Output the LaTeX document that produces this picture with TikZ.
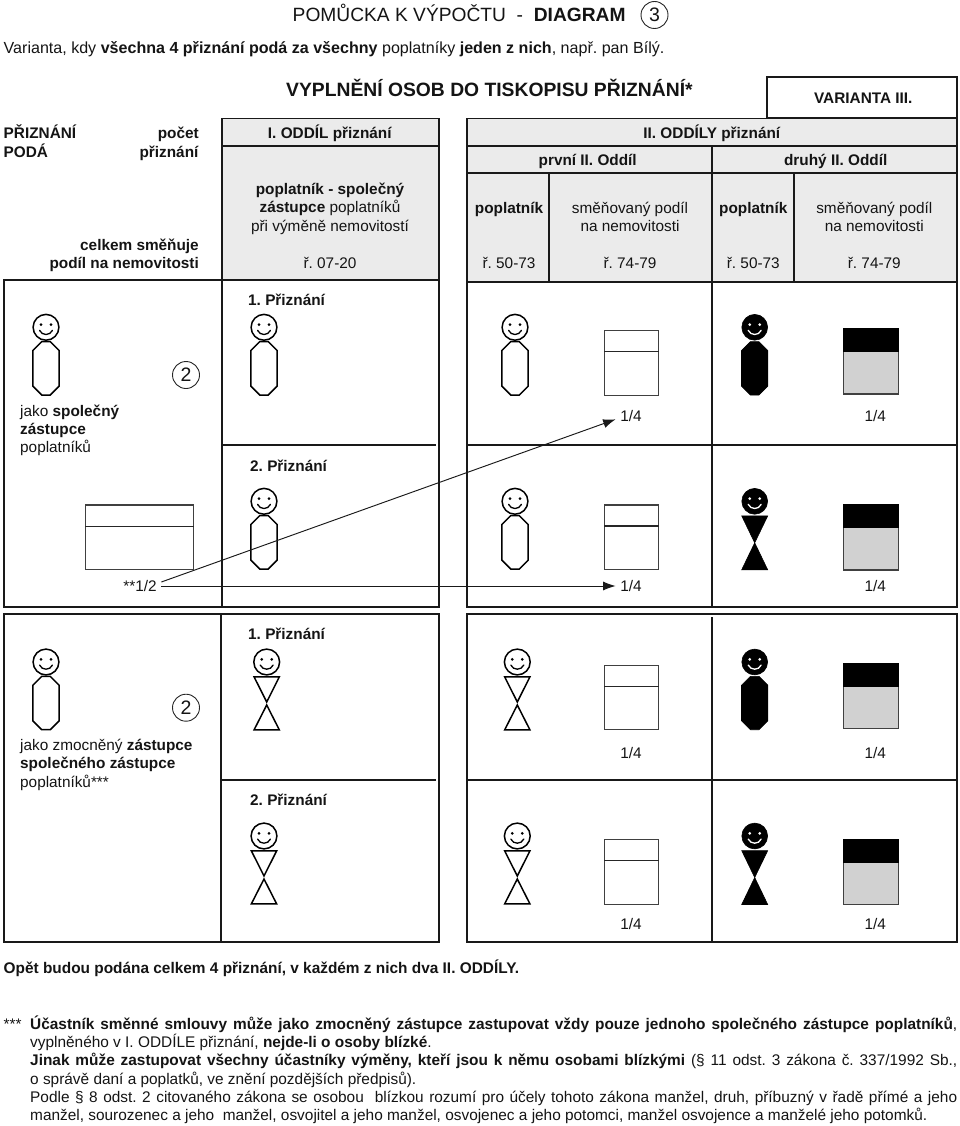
\documentclass[tikz,border=0pt]{standalone}
\usepackage{fontspec}
\setmainfont{Liberation Sans}
\usetikzlibrary{arrows.meta,calc}
\frenchspacing
\newcommand{\fs}{\fontsize{15.35}{18.35}\selectfont}
\newcommand{\jline}[1]{\hbox to 927pt{#1}}
\tikzset{
  x=1pt,y=-1pt,
  every node/.style={font=\fs,text=black!92},
  lb/.style={anchor=base,inner sep=0pt},
  lw/.style={anchor=base west,inner sep=0pt},
  le/.style={anchor=base east,inner sep=0pt},
  frame/.style={draw=black!90,line width=1.9pt},
  panel/.style={frame,fill=black!8},
  divide/.style={draw=black!90,line width=1.8pt},
  share/.style={anchor=base,inner ysep=0pt,inner xsep=4.5pt,text height=11pt,text depth=0pt},
  arr/.style={draw=black!90,line width=0.95pt,-{Latex[length=12.5pt,width=9pt]}},
  numc/.style={circle,draw=black!85,line width=0.9pt,minimum size=27pt,inner sep=0pt,font=\fontsize{19.5}{22}\selectfont},
  box/.style={draw=black!75,line width=1.1pt,fill=white},
  fig/.style={line width=1.5pt,draw=black,fill=white,line join=miter},
  figk/.style={line width=0.6pt,draw=black,fill=black},
  pics/head/.style n args={2}{code={
    \path[#1] (0,0) circle (12.9);
    \fill[#2] (-5,-2.6) circle (1.5) (5,-2.6) circle (1.5);
    \draw[#2,line width=1.3pt,line cap=round] (-6.5,3) .. controls (-4,8.6) and (4,8.6) .. (6.5,3);
  }},
  pics/man/.style={code={
    \path[fig] (-4.3,14.4) -- (4.3,14.4) -- (13.2,23.3) -- (13.2,58.8) -- (4.3,67.7) -- (-4.3,67.7) -- (-13.2,58.8) -- (-13.2,23.3) -- cycle;
    \pic {head={fig}{black}};
  }},
  pics/mank/.style={code={
    \path[figk] (-4.3,14.4) -- (4.3,14.4) -- (13.2,23.3) -- (13.2,58.8) -- (4.3,67.7) -- (-4.3,67.7) -- (-13.2,58.8) -- (-13.2,23.3) -- cycle;
    \pic {head={figk}{white}};
  }},
  pics/woman/.style={code={
    \path[fig] (-12.6,14.9) -- (12.6,14.9) -- (0,40) -- cycle;
    \path[fig] (0,43) -- (12.6,67.8) -- (-12.6,67.8) -- cycle;
    \pic {head={fig}{black}};
  }},
  pics/womank/.style={code={
    \path[figk] (-13,14.6) -- (13,14.6) -- (0,41.5) -- (13,68.5) -- (-13,68.5) -- (0,41.5) -- cycle;
    \pic {head={figk}{white}};
  }},
  pics/sqw/.style={code={
    \draw[box] (0,0) rectangle (54.4,64.6);
    \draw[draw=black!85,line width=1.4pt] (0,21) -- (54.4,21);
  }},
  pics/sqk/.style={code={
    \draw[draw=black!75,line width=1.1pt,fill=black!18] (0,0) rectangle (54.4,65);
    \path[draw=black,line width=1.1pt,fill=black] (0,0) rectangle (54.4,22.7);
  }},
}
\begin{document}
\begin{tikzpicture}
\useasboundingbox (0,0) rectangle (960,1126);
% titles
\node[lw,font=\fontsize{19.2}{22}\selectfont] (title) at (292.5,21.5) {POMŮCKA K VÝPOČTU\ \ -\ \ \textbf{DIAGRAM}};
\node[numc] (n3) at (654.5,15) {3};
\node[lw,font=\fontsize{16.07}{18}\selectfont] (sub) at (3.5,53.3) {Varianta, kdy \textbf{všechna 4 přiznání podá za všechny} poplatníky \textbf{jeden z nich}, např. pan Bílý.};
\node[lw,font=\bfseries\fontsize{19.3}{22}\selectfont] (fill) at (286,97) {VYPLNĚNÍ OSOB DO TISKOPISU PŘIZNÁNÍ*};
% header frames
\path[frame] (767.3,76.7) rectangle (956.7,118.3);
\node[lb] (var) at (863.3,103.5) {\textbf{VARIANTA III.}};
\path[panel] (222,118.5) rectangle (438.7,280);
\draw[divide] (222,145.7) -- (438.7,145.7);
\path[panel] (467.3,118.5) rectangle (956.7,281.7);
\draw[divide] (467.3,145.7) -- (956.7,145.7);
\draw[divide] (467.3,172.7) -- (956.7,172.7);
\draw[divide] (711.7,145.7) -- (711.7,281.7);
\draw[divide] (549.3,172.7) -- (549.3,281.7);
\draw[divide] (793.7,172.7) -- (793.7,281.7);
% header labels
\node[lw] (a1) at (3.5,139) {\textbf{PŘIZNÁNÍ}};
\node[lw] (a2) at (3.5,157.3) {\textbf{PODÁ}};
\node[le] (a3) at (199,139) {\textbf{počet}};
\node[le] (a4) at (199,157.3) {\textbf{přiznání}};
\node[le] (a5) at (199,250) {\textbf{celkem směňuje}};
\node[le] (a6) at (199,268.3) {\textbf{podíl na nemovitosti}};
\node[lb] (b1) at (330,139) {\textbf{I. ODDÍL přiznání}};
\node[lb] (b2) at (330,194.3) {\textbf{poplatník - společný}};
\node[lb] (b3) at (330,212.6) {\textbf{zástupce} poplatníků};
\node[lb] (b4) at (330,231) {při výměně nemovitostí};
\node[lb] (b5) at (330,268.3) {ř. 07-20};
\node[lb] (c1) at (712,139) {\textbf{II. ODDÍLY přiznání}};
\node[lb] (c2) at (587.7,166) {\textbf{první II. Oddíl}};
\node[lb] (c3) at (835.7,166) {\textbf{druhý II. Oddíl}};
\node[lb] (c4) at (509,213) {\textbf{poplatník}};
\node[lb] (c5) at (630,213) {směňovaný podíl};
\node[lb] (c6) at (630,231) {na nemovitosti};
\node[lb] (c7) at (509,268.3) {ř. 50-73};
\node[lb] (c8) at (630,268.3) {ř. 74-79};
\node[lb] (c9) at (753.3,213) {\textbf{poplatník}};
\node[lb] (c10) at (874.3,213) {směňovaný podíl};
\node[lb] (c11) at (874.3,231) {na nemovitosti};
\node[lb] (c12) at (753.3,268.3) {ř. 50-73};
\node[lb] (c13) at (874.3,268.3) {ř. 74-79};
% row 1 frames
\path[frame] (4,280) rectangle (438.7,607.3);
\draw[divide] (222,280) -- (222,607.3);
\draw[divide] (222,445) -- (436,445);
\path[frame] (467.3,281.7) rectangle (956.7,607.3);
\draw[divide] (711.7,281.7) -- (711.7,607.3);
\draw[divide] (467.3,445) -- (956.7,445);
% row 2 frames
\path[frame] (4,614.3) rectangle (438.7,942);
\draw[divide] (221.3,614.3) -- (221.3,942);
\draw[divide] (221.3,780) -- (436,780);
\path[frame] (467.3,614.3) rectangle (956.7,942);
\draw[divide] (711.7,617) -- (711.7,942);
\draw[divide] (467.3,780) -- (956.7,780);
% row 1 content
\pic at (46,327.3) {man};
\pic at (264,327.3) {man};
\pic at (515,327.3) {man};
\pic at (754.7,327.3) {mank};
\pic at (264,501.3) {man};
\pic at (515,501.3) {man};
\pic at (754.7,501.3) {womank};
\draw[box] (85.3,505) rectangle (193.7,569.7);
\draw[draw=black!85,line width=1.4pt] (85.3,526.3) -- (193.7,526.3);
\pic at (604.3,330.7) {sqw};
\pic at (604.3,505) {sqw};
\pic at (843.7,329) {sqk};
\pic at (843.7,505) {sqk};
\node[numc] (n2a) at (186,375) {2};
\node[lw] (d1) at (248,305.3) {\textbf{1. Přiznání}};
\node[lw] (d2) at (250,471) {\textbf{2. Přiznání}};
\node[lw] (d3) at (20,416) {jako \textbf{společný}};
\node[lw] (d4) at (20,434.3) {\textbf{zástupce}};
\node[lw] (d5) at (20,452.6) {poplatníků};
\node[share] (half) at (140,591.5) {**1/2};
\node[share] (q1) at (631,421.5) {1/4};
\node[share] (q2) at (631,591.5) {1/4};
\node[share] (q3) at (875.3,421.5) {1/4};
\node[share] (q4) at (875.3,591.5) {1/4};
\coordinate (hu) at ($(half.east)+(0,-4)$);
\coordinate (qa) at ($(q1.west)+(0,3.3)$);
\draw[arr] (hu) -- (qa);
\draw[arr] (half.east) -- (q2.west);
% row 2 content
\pic at (46,662) {man};
\pic at (266.7,662) {woman};
\pic at (517.3,662) {woman};
\pic at (754.7,662) {mank};
\pic at (264,836) {woman};
\pic at (517.3,836) {woman};
\pic at (754.7,836) {womank};
\pic at (604.3,665.3) {sqw};
\pic at (604.3,839.7) {sqw};
\pic at (843.7,663.7) {sqk};
\pic at (843.7,839.7) {sqk};
\node[numc] (n2b) at (186,707.7) {2};
\node[lw] (e1) at (248,639.3) {\textbf{1. Přiznání}};
\node[lw] (e2) at (250,805.3) {\textbf{2. Přiznání}};
\node[lw] (e3) at (20,750.3) {jako zmocněný \textbf{zástupce}};
\node[lw] (e4) at (20,768.6) {\textbf{společného zástupce}};
\node[lw] (e5) at (20,787) {poplatníků***};
\node[share] (q5) at (631,758) {1/4};
\node[share] (q6) at (875.3,758) {1/4};
\node[share] (q7) at (631,929.3) {1/4};
\node[share] (q8) at (875.3,929.3) {1/4};
% notes
\node[lw,font=\fontsize{15.4}{18.3}\selectfont] (f1) at (3.5,973) {\textbf{Opět budou podána celkem 4 přiznání, v každém z nich dva II. ODDÍLY.}};
\node[lw] (f2) at (3.5,1029) {***};
\node[anchor=north west,inner sep=0pt,align=justify,text width=930pt,font=\fontsize{15.4}{18.3}\selectfont] (f3) at (30,1015.5) {%
\jline{\textbf{Účastník směnné smlouvy může jako zmocněný zástupce zastupovat vždy pouze jednoho společného zástupce poplatníků},}\\
vyplněného v I. ODDÍLE přiznání, \textbf{nejde-li o osoby blízké}.\\
\jline{\textbf{Jinak může zastupovat všechny účastníky výměny, kteří jsou k němu osobami blízkými} (§ 11 odst. 3 zákona č. 337/1992 Sb.,}\\
o správě daní a poplatků, ve znění pozdějších předpisů).\\
\jline{Podle § 8 odst. 2 citovaného zákona se osobou\ \ blízkou rozumí pro účely tohoto zákona manžel, druh, příbuzný v řadě přímé a jeho}\\
manžel, sourozenec a jeho\ \ manžel, osvojitel a jeho manžel, osvojenec a jeho potomci, manžel osvojence a manželé jeho potomků.};
\end{tikzpicture}
\end{document}
